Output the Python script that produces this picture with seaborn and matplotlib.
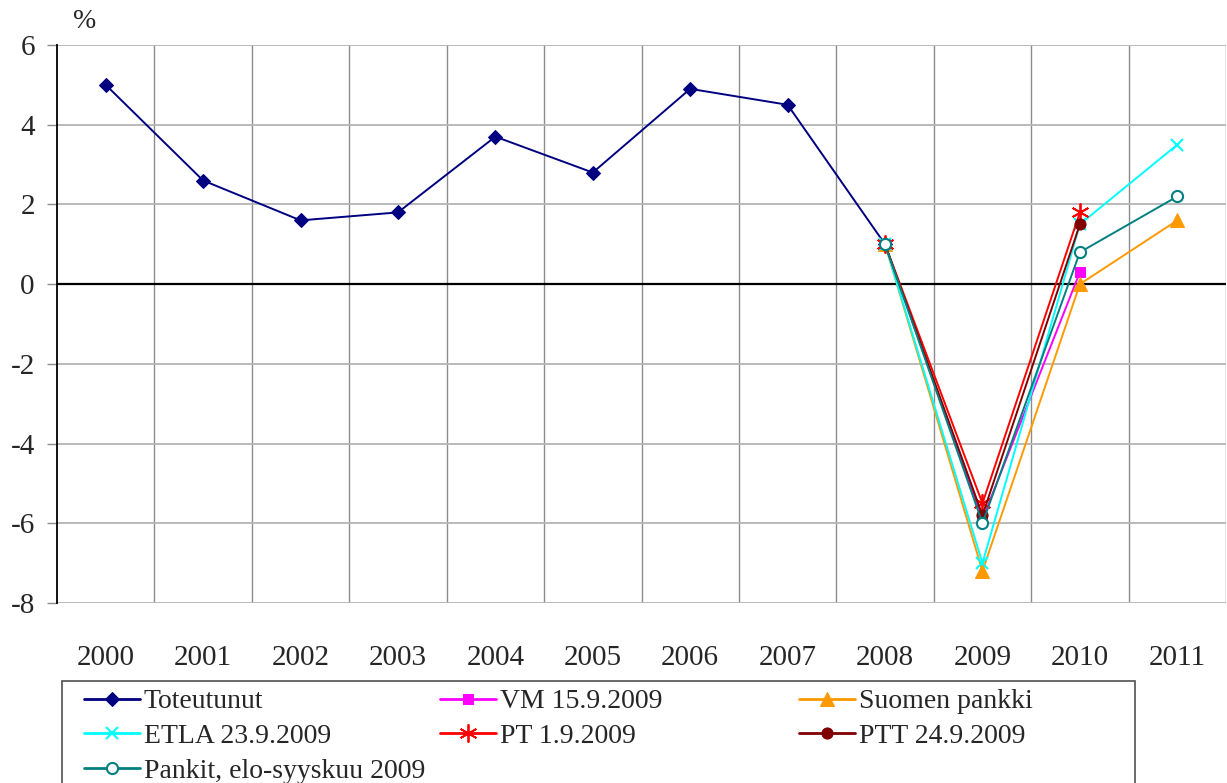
import numpy as np
import pandas as pd
import matplotlib
matplotlib.use("Agg")
import matplotlib.pyplot as plt
from matplotlib.patches import Rectangle
import seaborn as sns

nan = np.nan
years = ['2000', '2001', '2002', '2003', '2004', '2005', '2006', '2007', '2008', '2009', '2010', '2011']
toteutunut = [5.0, 2.6, 1.6, 1.8, 3.7, 2.8, 4.9, 4.5, 1.0, nan, nan, nan]
vm = [nan, nan, nan, nan, nan, nan, nan, nan, 1.0, -5.9, 0.3, nan]
suomen_pankki = [nan, nan, nan, nan, nan, nan, nan, nan, 1.0, -7.2, 0.0, 1.6]
etla = [nan, nan, nan, nan, nan, nan, nan, nan, 1.0, -7.0, 1.5, 3.5]
pt = [nan, nan, nan, nan, nan, nan, nan, nan, 1.0, -5.5, 1.8, nan]
ptt = [nan, nan, nan, nan, nan, nan, nan, nan, 1.0, -5.8, 1.5, nan]
pankit = [nan, nan, nan, nan, nan, nan, nan, nan, 1.0, -6.0, 0.8, 2.2]
series_names = ['Toteutunut', 'VM 15.9.2009', 'Suomen pankki', 'ETLA 23.9.2009',
                'PT 1.9.2009', 'PTT 24.9.2009', 'Pankit, elo-syyskuu 2009']
y_ticks = [-8, -6, -4, -2, 0, 2, 4, 6]

sns.set_style("white")
plt.rcParams['font.family'] = ['Liberation Serif', 'DejaVu Serif']

W, H = 1227, 783
fig = plt.figure(figsize=(W / 100, H / 100), dpi=100)
ax = fig.add_axes([57 / W, 1 - 603 / H, (1226 - 57) / W, (603 - 45) / H])

xpos = np.arange(len(years))
styles = [
    dict(color='#000080', marker='D', markersize=7.5, markerfacecolor='#000080', markeredgecolor='#000080'),
    dict(color='#FF00FF', marker='s', markersize=7, markerfacecolor='#FF00FF', markeredgecolor='#FF00FF'),
    dict(color='#FF9900', marker='^', markersize=10, markerfacecolor='#FF9900', markeredgecolor='#FF9900'),
    dict(color='#00FFFF', marker='x', markersize=9, markeredgewidth=1.5, markeredgecolor='#00FFFF'),
    dict(color='#FF0000', marker=(6, 2, 0), markersize=13, markeredgewidth=1.3, markeredgecolor='#FF0000'),
    dict(color='#800000', marker='o', markersize=8, markerfacecolor='#800000', markeredgecolor='#800000'),
    dict(color='#008080', marker='o', markersize=8, markerfacecolor='white', markeredgecolor='#008080', markeredgewidth=1.5),
]
all_series = [toteutunut, vm, suomen_pankki, etla, pt, ptt, pankit]

for name, vals, st in zip(series_names, all_series, styles):
    df = pd.DataFrame({'x': xpos, 'y': vals}).dropna()
    sns.lineplot(data=df, x='x', y='y', ax=ax, label=name, linewidth=1.4,
                 estimator=None, sort=False, **st)

if ax.get_legend() is not None:
    ax.get_legend().remove()

ax.set_xlim(-0.5, len(years) - 0.5)
ax.set_ylim(-8, 6)
ax.set_yticks(y_ticks)
ax.set_yticklabels([str(v) for v in y_ticks])
ax.set_xticks(xpos)
ax.set_xticklabels(years)
ax.set_xticks(np.arange(0.5, len(years), 1), minor=True)
ax.set_xlabel('')
ax.set_ylabel('')

ax.grid(False)
ax.yaxis.grid(True, color='#b4b4b4', linewidth=1.3)
ax.xaxis.grid(True, which='minor', color='#8c8c8c', linewidth=1.0)
ax.axhline(0, color='black', linewidth=1.6, zorder=1.5)
ax.set_axisbelow(True)

for s in ['top', 'right', 'bottom']:
    ax.spines[s].set_visible(False)
ax.spines['left'].set_color('black')
ax.spines['left'].set_linewidth(1.3)

ax.tick_params(axis='y', which='major', direction='out', length=7, width=1.0,
               color='#8c8c8c', labelsize=21, pad=9, left=True)
ax.tick_params(axis='x', which='major', length=0, labelsize=21, pad=30)
ax.tick_params(axis='x', which='minor', length=0)

fig.text(85 / W, 1 - 22 / H, '%', fontsize=20, ha='center', va='center')

handles, labels = ax.get_legend_handles_labels()
hmap = dict(zip(labels, handles))
cols = [['Toteutunut', 'ETLA 23.9.2009', 'Pankit, elo-syyskuu 2009'],
        ['VM 15.9.2009', 'PT 1.9.2009'],
        ['Suomen pankki', 'PTT 24.9.2009']]
col_x = [84, 440, 799]
for cx, names in zip(col_x, cols):
    leg = fig.legend([hmap[n] for n in names], names, loc='upper left',
                     bbox_to_anchor=(cx / W, 1 - 689 / H), frameon=False,
                     fontsize=20, borderpad=0, handlelength=2.0, handletextpad=0.15,
                     labelspacing=0.33, borderaxespad=0)
    for lh in leg.get_lines():
        lh.set_linewidth(2.0)

fig.patches.append(Rectangle((62 / W, -0.02), (1135 - 62) / W, 0.02 + 1 - 681 / H,
                             transform=fig.transFigure, fill=False,
                             edgecolor='#505050', linewidth=1.2))

fig.savefig('out.png', dpi=100)
